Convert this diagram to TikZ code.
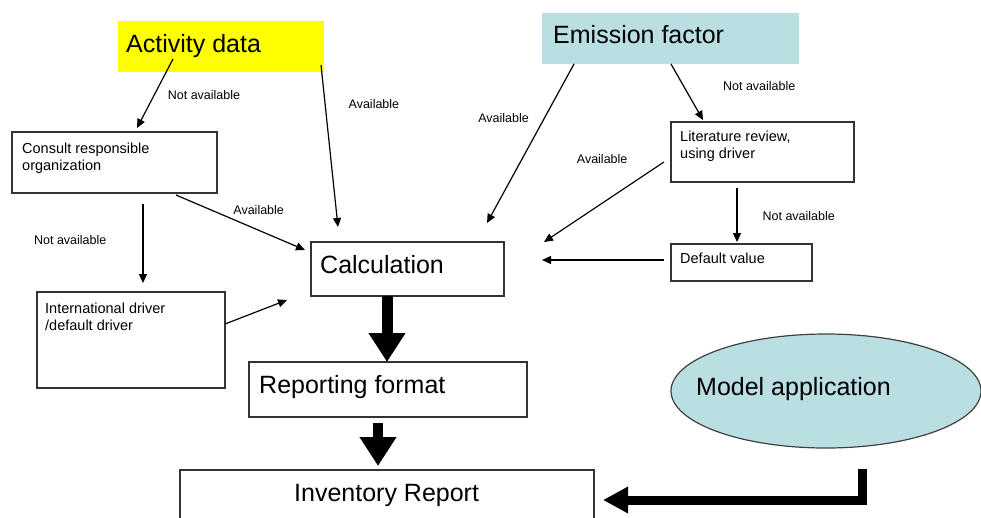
\documentclass[tikz,border=0pt]{standalone}
\usepackage{fontspec}
\setmainfont{Liberation Sans}
\usetikzlibrary{arrows.meta,shapes.geometric}

\definecolor{actyellow}{RGB}{255,255,0}
\definecolor{efblue}{RGB}{185,223,227}

\begin{document}
\begin{tikzpicture}[x=1pt,y=-1pt,
    box/.style={draw=black!80,line width=1.2pt,anchor=north west,inner sep=0pt,outer sep=0pt},
    bigtxt/.style={font=\fontsize{25}{30}\selectfont,inner sep=0pt,anchor=base west},
    smalltxt/.style={font=\fontsize{14.5}{17}\selectfont,inner sep=0pt,anchor=north west,align=left},
    lbl/.style={font=\fontsize{12.5}{14}\selectfont,inner sep=1pt},
    thinarrow/.style={line width=1.2pt,-{Triangle[length=9pt,width=8pt]}},
    fatarrow/.style={line width=10pt,-{Triangle[length=29pt,width=35pt]}}]
  \useasboundingbox (0,0) rectangle (981,517);

  \node[box,draw=none,fill=actyellow,minimum width=206pt,minimum height=51pt] (ACT) at (118,21) {};
  \node[bigtxt] (ACTTXT) at ([xshift=8pt,yshift=-31pt]ACT.north west) {Activity data};
  \node[box,draw=none,fill=efblue,minimum width=257pt,minimum height=51pt] (EMI) at (542,13) {};
  \node[bigtxt] (EMITXT) at ([xshift=11pt,yshift=-30pt]EMI.north west) {Emission factor};

  \node[box,minimum width=205pt,minimum height=61pt] (CONS) at (12,132) {};
  \node[smalltxt] (CONSTXT) at ([xshift=10pt,yshift=-11pt]CONS.north west) {Consult responsible\\organization};
  \node[box,minimum width=188pt,minimum height=96pt] (INTL) at (37,292) {};
  \node[smalltxt] (INTLTXT) at ([xshift=8pt,yshift=-11pt]INTL.north west) {International driver\\/default driver};
  \node[box,minimum width=183pt,minimum height=60pt] (LIT) at (671,122) {};
  \node[smalltxt] (LITTXT) at ([xshift=9pt,yshift=-9pt]LIT.north west) {Literature review,\\using driver};
  \node[box,minimum width=141pt,minimum height=37pt] (DEF) at (671,244) {};
  \node[smalltxt] (DEFTXT) at ([xshift=9pt,yshift=-9pt]DEF.north west) {Default value};

  \node[box,minimum width=193pt,minimum height=54pt] (CALC) at (311,242) {};
  \node[bigtxt] (CALCTXT) at ([xshift=9pt,yshift=-31pt]CALC.north west) {Calculation};
  \node[box,minimum width=278pt,minimum height=55pt] (REP) at (249,362) {};
  \node[bigtxt] (REPTXT) at ([xshift=10pt,yshift=-31pt]REP.north west) {Reporting format};
  \node[box,minimum width=414pt,minimum height=60pt] (INV) at (180,470) {};
  \node[bigtxt] (INVTXT) at ([xshift=114pt,yshift=-31pt]INV.north west) {Inventory Report};

  \node[ellipse,draw=black!75,line width=1.2pt,fill=efblue,minimum width=310pt,minimum height=114pt] (MODEL) at (826,391) {};
  \node[bigtxt] (MODELTXT) at ([xshift=-130pt,yshift=-4pt]MODEL.center) {Model application};

  % activity data side
  \draw[thinarrow] ([xshift=55pt,yshift=13pt]ACT.south west) -- ([xshift=125pt,yshift=4pt]CONS.north west)
    node[lbl,pos=0.52,anchor=west,xshift=12pt] (NA1) {Not available};
  \draw[thinarrow] ([xshift=-3pt,yshift=7pt]ACT.south east) -- ([xshift=27pt,yshift=15pt]CALC.north west)
    node[lbl,pos=0.24,anchor=west,xshift=22pt] (AV1) {Available};
  \draw[thinarrow] ([xshift=164pt,yshift=-2pt]CONS.south west) -- ([xshift=-6pt,yshift=-8pt]CALC.north west)
    node[lbl,pos=0.27,anchor=west,xshift=21pt] (AV2) {Available};
  \draw[thinarrow] ([xshift=131pt,yshift=-11pt]CONS.south west) -- ([xshift=106pt,yshift=9pt]INTL.north west)
    node[lbl,pos=0.46,anchor=east,xshift=-35pt] (NA2) {Not available};
  \draw[thinarrow] ([yshift=-32pt]INTL.north east) -- ([xshift=-24pt,yshift=-4pt]CALC.south west);

  % emission factor side
  \draw[thinarrow] ([xshift=32pt]EMI.south west) -- ([xshift=-17pt,yshift=19pt]CALC.north east)
    node[lbl,pos=0.34,anchor=east,xshift=-14pt] (AV3) {Available};
  \draw[thinarrow] ([xshift=129pt]EMI.south west) -- ([xshift=32pt,yshift=2pt]LIT.north west)
    node[lbl,pos=0.39,anchor=west,xshift=38pt] (NA3) {Not available};
  \draw[thinarrow] ([xshift=-7pt,yshift=-40pt]LIT.north west) -- ([xshift=40pt]CALC.north east)
    node[lbl,at start,anchor=east,xshift=-35pt,yshift=3pt] (AV4) {Available};
  \draw[thinarrow] ([xshift=66pt,yshift=-6pt]LIT.south west) -- ([xshift=66pt,yshift=2pt]DEF.north west)
    node[lbl,pos=0.52,anchor=west,xshift=24pt] (NA4) {Not available};
  \draw[thinarrow] ([xshift=-7pt,yshift=-16pt]DEF.north west) -- ([xshift=38pt,yshift=-18pt]CALC.north east);

  % reporting
  \draw[fatarrow,line width=11pt] ([xshift=76pt]CALC.south west) -- ([xshift=138pt]REP.north west);
  \draw[fatarrow] ([xshift=129pt,yshift=-6pt]REP.south west) -- ([xshift=198pt,yshift=4pt]INV.north west);
  \draw[line width=9pt,-{Triangle[length=25pt,width=25pt]}] ([xshift=36pt,yshift=-20pt]MODEL.south) |- ([xshift=9pt,yshift=-30pt]INV.north east);
\end{tikzpicture}
\end{document}
